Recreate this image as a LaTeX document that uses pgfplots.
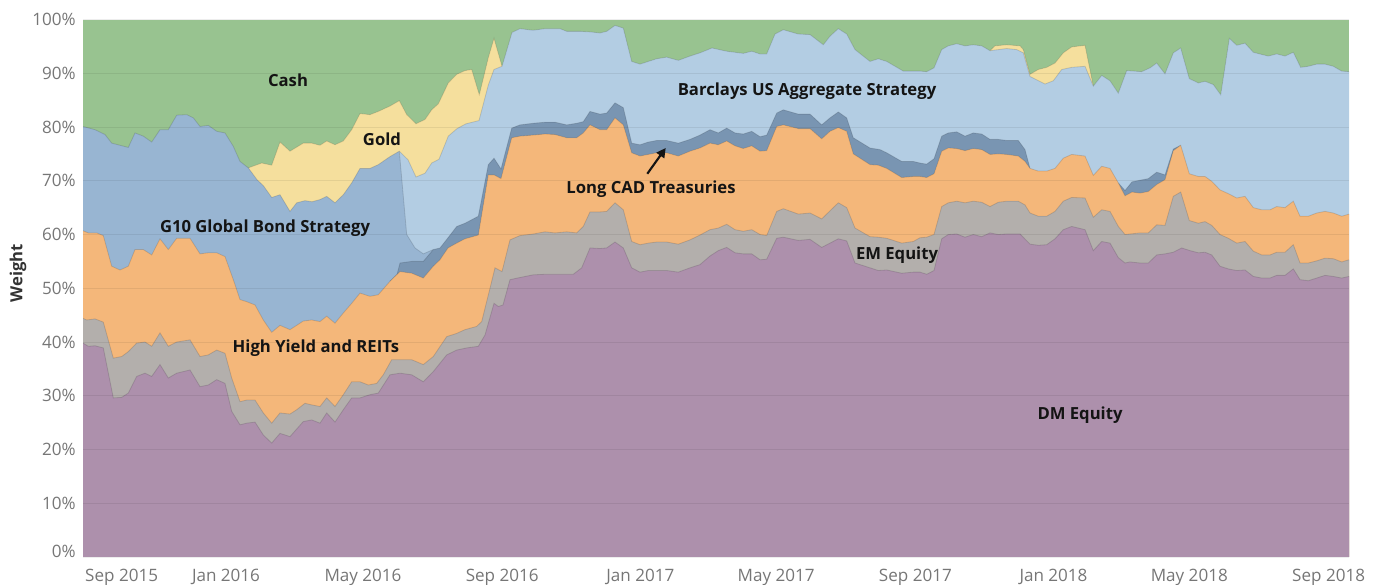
\documentclass[border=0pt]{standalone}
\usepackage{pgfplots}
\pgfplotsset{compat=1.18}
\usepackage{pgfplotstable}
\usepackage{fontspec}
\setmainfont{Open Sans}
\usetikzlibrary{arrows.meta}

\definecolor{cCash}{RGB}{152,195,144}
\definecolor{cGold}{RGB}{245,223,157}
\definecolor{cBarc}{RGB}{179,205,227}
\definecolor{cGten}{RGB}{152,181,210}
\definecolor{cCad}{RGB}{121,149,178}
\definecolor{cHy}{RGB}{244,183,122}
\definecolor{cEm}{RGB}{179,175,172}
\definecolor{cDm}{RGB}{173,144,172}
\definecolor{tickgray}{RGB}{118,118,118}
\definecolor{lblcol}{RGB}{20,20,20}

% x is position in the chart's time scale (Jan 2016 = 226, 1.132 units per day)
% Top edge of the Gold layer (= bottom of Cash), where Gold is present
\pgfplotstableread{
x y
248.3 72.4
261.7 73.3
271.7 72.9
280 77.2
290 75.5
303.3 77.0
311.7 77.0
320 76.6
326.7 77.4
335 76.7
343.3 77.4
351.7 79.5
360 82.5
370 82.3
378.3 82.9
390 83.9
399.3 84.9
406.7 82.3
416 80.6
425 81.4
431.7 83.2
438.3 84.3
448.3 88.2
456.7 89.8
465 90.5
471.7 90.7
479.3 86.0
488.3 92.9
494 96.5
502 91.3
}\tGoldA
\pgfplotstableread{
x y
990 94.2
995 95.1
1006.7 95.3
1020 95.1
1023.3 94.4
1030 89.8
1038.3 90.7
1046.7 91.1
1055 91.9
1063.3 93.8
1071.7 94.9
1085 95.2
1093.3 87.6
}\tGoldB
% Top edge of Barclays US Aggregate Strategy
\pgfplotstableread{
x y
399.3 75.5
408 73.9
416 70.7
425 71.4
431.7 73.3
439 74.0
448.3 78.3
457 79.7
466 80.6
479 81.2
488.3 87.8
494 90.7
502 91.3
512 97.6
520 98.3
533 98.0
545 98.3
560 98.3
566.7 97.8
580 97.8
590 97.7
600 97.5
606.7 97.8
615 98.9
623.3 98.4
631.7 92.2
640 91.7
648.3 92.2
656.7 92.7
666.7 93.0
678.3 92.4
690 93.2
700 93.8
712 94.7
726.7 94.1
743.3 93.7
751.7 94.1
760 93.6
766.7 93.6
775 97.3
783.3 98.1
798.3 97.3
810 97.2
823.3 95.3
830 96.9
838.3 98.3
846.7 97.3
855 94.4
870 92.2
878.3 92.7
886.7 92.2
903.3 90.4
913.3 90.4
920 90.4
926.7 90.3
934 91.0
941.7 94.4
948.3 95.1
956.7 95.5
965 95.1
973.3 95.3
981.7 95.1
990 94.2
998.3 94.4
1006.7 94.6
1016.7 94.4
1023.3 93.8
1030 89.4
1045 88.0
1053.3 88.6
1061.7 90.7
1071.7 91.1
1085 91.3
1093.3 87.6
1101.7 89.6
1110 88.6
1118.3 86.3
1126.7 90.5
1141.7 90.3
1150 91.0
1156.7 91.9
1165 89.9
1173.3 93.8
1180.7 94.7
1189.3 89.0
1198.3 88.2
1205 88.5
1213.3 87.9
1220.7 86.0
1229.3 96.5
1236.7 95.2
1245 95.6
1253.3 93.9
1261.7 93.5
1268.3 93.2
1276.7 93.6
1285 93.2
1293.3 93.9
1300.7 91.1
1308.3 91.3
1316.7 91.7
1325 91.7
1333.3 91.3
1341.7 90.4
1349 90.3
}\tBarc
% Top edge of G10 Global Bond Strategy
\pgfplotstableread{
x y
83 80.1
95 79.5
105 78.6
111.7 77.0
128.3 76.2
135 78.9
143.3 78.3
151.7 77.2
160 79.5
168.3 79.5
176.7 82.2
186.7 82.3
193.3 81.7
200 80.1
208.3 80.3
216.7 79.2
225 78.9
233.3 76.4
240 73.6
248.3 72.4
257 70.2
263.3 69.1
271.7 66.9
280 67.4
290 64.3
296.7 65.9
305 66.3
312 66.1
320 66.5
326.7 67.1
335 65.9
343.3 67.4
351.7 69.6
360 72.3
370 72.3
378.3 73.0
390 74.5
399.3 75.5
406.7 60.0
415 57.5
423.3 56.4
433.3 57.2
}\tGten
% Top edge of Long CAD Treasuries
\pgfplotstableread{
x y
390 51.3
397 52.56
400 54.7
411.7 55.0
423.3 55.0
433.3 57.2
440 57.5
448 59.4
456.7 61.5
465 62.1
478.3 63.4
488.3 73.0
494 74.2
501 72.2
511.7 79.8
520 80.4
533.3 80.7
545 80.9
555 80.9
566.7 80.4
576.7 80.7
583.3 81.0
590 82.9
600 82.4
606.7 82.6
615 84.5
623.3 83.6
631.7 77.0
640 76.7
648.3 77.2
656.7 77.5
666.7 77.5
678.3 77.0
690 77.7
700 78.5
710 79.5
718.3 78.9
726.7 79.8
735 78.9
743.3 78.7
751.7 79.2
760 78.2
766.7 78.5
776.7 82.6
783.3 83.2
798.3 82.4
810 82.4
821.7 80.4
830 81.7
838.3 82.8
846.7 81.7
853.3 78.0
870 76.1
880 75.8
886.7 75.2
901.7 73.6
913.3 73.6
920 73.3
926.7 73.1
934 74.1
941.7 78.3
948.3 78.9
956.7 79.1
965 78.3
973.3 78.9
981.7 78.7
990 77.7
998.3 77.7
1006.7 77.5
1018.3 77.5
1025 75.8
1030 72.3
}\tCadA
\pgfplotstableread{
x y
1118.3 69.6
1125 68.2
1132 69.8
1140 70.1
1148.3 70.4
1156.7 71.6
1165 71.1
1173.3 75.9
1180.7 76.6
}\tCadB
% Top edge of High Yield and REITs
\pgfplotstableread{
x y
83 60.7
88.3 60.3
96.7 60.3
103.3 59.8
111.7 54.1
120 53.4
128.3 54.1
135 57.2
143.3 57.2
151.7 56.2
160 59.2
168.3 57.2
176.7 59.3
190 59.3
200 56.4
208.3 56.6
216.7 56.6
225 55.9
233.3 51.6
240 47.9
246.7 47.5
255 46.9
263.3 44.1
271.7 41.8
280 43.1
290 42.3
303.3 43.9
311.7 44.1
320 43.8
326.7 44.8
335 43.5
343.3 45.4
351.7 47.2
360 49.1
370 48.5
378.3 48.8
390 51.3
400 53.1
411.7 52.8
423.3 51.9
433.3 54.1
440 55.3
448 57.5
456.7 58.4
465 59.2
478.3 59.9
488.3 71.1
494 71.1
501 70.4
511.7 78.0
520 78.3
533.3 78.5
545 78.7
555 78.6
566.7 78.0
576.7 78.0
583.3 78.9
590 80.4
600 79.5
606.7 79.5
615 81.7
623.3 80.4
631.7 75.2
640 74.6
648.3 74.9
656.7 75.2
666.7 75.2
678.3 74.6
690 75.5
700 76.1
710 77.0
718.3 76.7
726.7 77.4
735 76.5
743.3 76.0
751.7 76.5
760 75.5
766.7 75.6
776.7 80.1
783.3 80.4
798.3 79.7
810 79.7
821.7 77.8
830 79.2
838.3 79.9
846.7 79.2
853.3 75.0
870 73.0
878.3 72.9
886.7 72.3
901.7 70.6
913.3 70.8
920 70.8
926.7 70.6
934 71.3
941.7 75.5
948.3 76.1
956.7 76.0
965 75.6
973.3 76.0
981.7 75.8
990 74.9
998.3 75.0
1006.7 74.9
1018.3 74.6
1025 73.6
1030 72.3
1038.3 71.8
1046.7 71.8
1055 72.3
1063.3 74.2
1071.7 74.9
1085 74.6
1093.3 71.0
1101.7 72.7
1110 72.3
1118.3 69.6
1125 67.2
1132 67.9
1140 67.7
1148.3 68.0
1156.7 69.3
1165 70.2
1173.3 75.6
1180.7 76.6
1189.3 71.3
1198.3 70.8
1205 70.8
1211.7 69.9
1220 68.3
1228.3 67.6
1236.7 66.8
1245 67.1
1253.3 65.0
1261.7 64.6
1270 64.6
1276.7 65.2
1285 65.0
1293.3 66.2
1300 63.4
1308.3 63.4
1316.7 64.0
1325 64.3
1333.3 64.0
1341.7 63.4
1349 63.8
}\tHy
% Top edge of EM Equity
\pgfplotstableread{
x y
83 44.4
86.7 44.1
95 44.3
103.3 43.7
113.3 37.0
121.7 37.3
128.3 38.2
136.7 39.8
145 40.0
151.7 39.2
160 41.7
168.3 39.2
176.7 40.0
190 40.4
200 37.3
208.3 37.6
216.7 38.5
225 37.9
231.7 33.3
240 28.9
246.7 29.2
255 29.2
263.3 26.8
271.7 24.9
280 26.8
290 26.6
296.7 27.4
305 28.6
311.7 28.3
320 28.0
326.7 29.6
335 28.0
343.3 30.2
351.7 32.6
360 32.6
368.3 32.0
376.7 32.3
383.3 33.9
391.7 36.7
400 36.7
411.7 36.7
423.3 35.8
433.3 37.3
446.7 41.0
456.7 41.6
465 42.3
476.7 42.9
481.7 43.8
490 50.0
495 53.8
502 53.1
510 59.0
520 59.8
533.3 60.1
545 60.5
555 60.3
566.7 60.5
576.7 60.3
583.3 61.5
590 64.2
600 64.2
606.7 64.3
615 65.9
623.3 64.6
631.7 58.7
640 58.1
648.3 58.4
656.7 58.6
666.7 58.6
678.3 58.2
690 59.0
700 59.9
710 60.9
718.3 61.2
726.7 61.9
735 60.9
743.3 60.6
751.7 60.9
760 60.0
766.7 59.8
776.7 64.3
783.3 64.8
798.3 63.8
810 64.0
821.7 62.9
830 64.4
838.3 65.9
846.7 65.0
855 61.2
870 59.6
878.3 59.5
886.7 59.3
901.7 58.4
913.3 58.7
920 59.4
926.7 59.5
934 60.0
941.7 65.2
948.3 65.9
956.7 66.2
965 65.9
973.3 66.2
981.7 66.0
990 65.2
998.3 66.0
1006.7 66.2
1018.3 66.2
1025 65.5
1030 64.0
1038.3 63.4
1046.7 63.4
1055 64.3
1063.3 66.2
1071.7 66.9
1085 66.8
1093.3 63.2
1101.7 64.6
1110 64.3
1118.3 61.5
1125 60.0
1130 60.1
1140 60.3
1148.3 60.3
1156.7 61.8
1165 61.7
1173.3 67.1
1180.7 67.9
1189.3 62.6
1198.3 62.1
1205 62.4
1211.7 61.7
1220 60.0
1228.3 59.3
1236.7 58.4
1245 58.7
1253.3 56.9
1261.7 56.2
1270 56.2
1276.7 56.7
1285 56.7
1293.3 58.1
1300 54.7
1308.3 54.7
1316.7 55.1
1325 55.6
1333.3 55.5
1341.7 54.9
1349 55.3
}\tEm
% Top edge of DM Equity
\pgfplotstableread{
x y
83 39.8
88.3 39.2
95 39.3
103.3 38.9
113.3 29.6
121.7 29.7
128.3 30.5
136.7 33.6
145 34.2
151.7 33.6
160 35.8
168.3 33.3
176.7 34.2
190 34.8
200 31.7
208.3 32.0
216.7 33.0
225 32.3
231.7 27.1
240 24.6
246.7 24.9
255 25.1
263.3 22.7
271.7 21.2
280 23.0
290 22.4
303.3 25.2
311.7 25.5
320 24.9
326.7 26.8
335 25.1
343.3 27.4
351.7 29.6
360 29.6
370 30.2
378.3 30.5
390 33.9
400 34.2
411.7 33.9
423.3 32.6
433.3 34.5
446.7 37.6
456.7 38.5
466.7 38.9
478.3 39.2
485 41.3
494 47.2
498.3 46.6
503 46.9
510 51.6
520 52.0
533.3 52.5
545 52.6
558.3 52.6
573.3 52.6
581.7 53.8
590 57.5
600 57.4
606.7 57.5
615 58.6
623.3 57.5
631.7 53.8
640 53.0
648.3 53.3
656.7 53.3
666.7 53.3
678.3 53.0
690 53.8
700 54.4
710 56.0
718.3 57.0
726.7 57.6
735 56.6
743.3 56.4
751.7 56.4
760 55.3
766.7 55.4
776.7 59.3
783.3 59.5
798.3 58.9
810 59.1
821.7 57.6
838.3 59.2
846.7 58.8
855 54.7
870 53.8
878.3 53.3
886.7 53.4
901.7 52.8
913.3 53.0
920 53.0
926.7 52.6
934 53.3
941.7 59.2
948.3 60.0
956.7 60.1
965 59.5
973.3 60.0
981.7 59.6
990 60.3
998.3 60.0
1006.7 60.1
1020 60.1
1030 58.2
1038.3 58.0
1046.7 58.1
1055 59.2
1063.3 60.9
1071.7 61.5
1085 60.9
1093.3 57.0
1101.7 58.7
1110 58.4
1118.3 55.7
1125 54.7
1130 54.9
1140 54.7
1148.3 54.7
1156.7 56.2
1165 56.4
1173.3 56.7
1181.7 57.5
1190 57.0
1198.3 56.6
1205 56.7
1211.7 56.2
1220 54.1
1228.3 53.6
1236.7 53.3
1245 53.4
1253.3 52.2
1261.7 51.9
1270 51.9
1276.7 52.4
1285 52.4
1293.3 53.6
1300 51.6
1308.3 51.4
1316.7 51.9
1325 52.4
1333.3 52.2
1341.7 51.9
1349 52.2
}\tDm

\pgfplotsset{edge/.style={draw=black, draw opacity=0.13, line width=0.6pt}}
\newcommand{\lbl}{\fontsize{12.5}{14}\selectfont\bfseries}

\begin{document}
\begin{tikzpicture}
\begin{axis}[
  at={(62.25pt,21pt)}, anchor=south west,
  scale only axis, width=949.5pt, height=403.1pt,
  xmin=83, xmax=1349, ymin=0, ymax=100,
  axis line style={draw=none},
  major tick length=0pt, minor tick length=0pt,
  axis on top,
  ymajorgrids, major grid style={black, opacity=0.07, line width=0.6pt},
  /pgf/number format/assume math mode=true,
  ytick={0,10,20,30,40,50,60,70,80,90,100},
  yticklabels={\raisebox{8pt}{0\%},10\%,20\%,30\%,40\%,50\%,60\%,70\%,80\%,90\%,100\%},
  yticklabel style={anchor=east, inner sep=0pt, xshift=-5.25pt, text=tickgray, font=\fontsize{12.8}{14}\selectfont},
  xtick={87.9,226,363,502.2,640.3,776.2,915.4,1053.5,1189.3,1328.6},
  xticklabels={\makebox[0pt][l]{\hspace{-2pt}Sep 2015},Jan 2016,May 2016,Sep 2016,Jan 2017,May 2017,Sep 2017,Jan 2018,May 2018,Sep 2018},
  xticklabel style={anchor=base, inner sep=0pt, yshift=-18.75pt, text=tickgray, font=\fontsize{12.8}{14}\selectfont},
]
% Cash fills the whole field; each lower layer is drawn over it
\addplot[fill=cCash, draw=none] coordinates {(83,100) (1349,100)} \closedcycle;
\addplot[fill=cGold, draw=none] table {\tGoldA} \closedcycle;
\addplot[edge] table {\tGoldA};
\addplot[fill=cGold, draw=none] table {\tGoldB} \closedcycle;
\addplot[edge] table {\tGoldB};
\addplot[fill=cBarc, draw=none] table {\tBarc} \closedcycle;
\addplot[edge] table {\tBarc};
\addplot[fill=cGten, draw=none] table {\tGten} \closedcycle;
\addplot[edge] table {\tGten};
\addplot[fill=cCad, draw=none] table {\tCadA} \closedcycle;
\addplot[edge] table {\tCadA};
\addplot[fill=cCad, draw=none] table {\tCadB} \closedcycle;
\addplot[edge] table {\tCadB};
\addplot[fill=cHy, draw=none] table {\tHy} \closedcycle;
\addplot[edge] table {\tHy};
\addplot[fill=cEm, draw=none] table {\tEm} \closedcycle;
\addplot[edge] table {\tEm};
\addplot[fill=cDm, draw=none] table {\tDm} \closedcycle;
\addplot[edge] table {\tDm};

\node[anchor=base, font=\lbl, text=lblcol] at (axis cs:288,87.6) {Cash};
\node[anchor=base, font=\lbl, text=lblcol] at (axis cs:382,76.6) {Gold};
\node[anchor=base, font=\lbl, text=lblcol] at (axis cs:265,60.3) {G10 Global Bond Strategy};
\node[anchor=base, font=\lbl, text=lblcol] at (axis cs:316,38.0) {High Yield and REITs};
\node[anchor=base, font=\lbl, text=lblcol] at (axis cs:651,67.7) {Long CAD Treasuries};
\node[anchor=base, font=\lbl, text=lblcol] at (axis cs:807,85.9) {Barclays US Aggregate Strategy};
\node[anchor=base, font=\lbl, text=lblcol] at (axis cs:897,55.4) {EM Equity};
\node[anchor=base, font=\lbl, text=lblcol] at (axis cs:1080,25.6) {DM Equity};
\draw[-{Triangle[length=7pt,width=7pt]}, line width=1.6pt, lblcol] (axis cs:647.3,71.3) -- (axis cs:665.7,76.1);
\end{axis}
\node[rotate=90, anchor=center, font=\lbl, text=black!80] at (13.5pt,234pt) {Weight};
\pgfresetboundingbox
\path[use as bounding box] (0,0) rectangle (1033.5pt,438.75pt);
\end{tikzpicture}
\end{document}
